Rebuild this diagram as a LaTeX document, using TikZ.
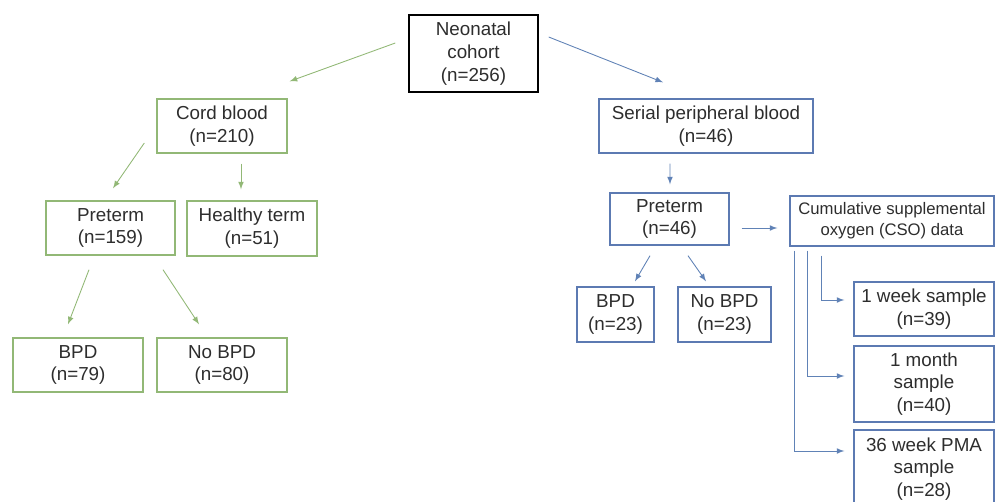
\documentclass[tikz,border=0pt]{standalone}
\usepackage{fontspec}
\setmainfont{Liberation Sans}
\usetikzlibrary{arrows,calc}

\definecolor{verde}{RGB}{146,184,118}
\definecolor{azul}{RGB}{92,122,178}
\definecolor{setaazul}{RGB}{96,130,182}
\definecolor{texto}{RGB}{45,45,45}

\begin{document}
\begin{tikzpicture}[>=latex,x=0.02cm,y=-0.02cm,
  caixa/.style={draw,line width=0.8pt,align=center,inner sep=0pt,text=texto,
    font=\fontsize{10.7}{13}\selectfont},
  cverde/.style={caixa,draw=verde},
  cazul/.style={caixa,draw=azul},
  sverde/.style={->,verde,line width=0.5pt},
  sazul/.style={->,setaazul,line width=0.5pt}]
	% area
	\clip (0,0) rectangle (995,501);
	% topo
	\node[caixa,draw=black,minimum width=2.58cm,minimum height=1.54cm] (coorte) at (473.5,53.5) {Neonatal\\cohort\\(n=256)};
	% ramo do cordao
	\node[cverde,minimum width=2.6cm,minimum height=1.08cm] (cordao) at (222,126) {Cord blood\\(n=210)};
	\node[cverde,minimum width=2.58cm,minimum height=1.08cm] (pretA) at (110.5,228) {Preterm\\(n=159)};
	\node[cverde,minimum width=2.6cm,minimum height=1.1cm] (termo) at (252,228.5) {Healthy term\\(n=51)};
	\node[cverde,minimum width=2.6cm,minimum height=1.08cm] (bpdA) at (78,365) {BPD\\(n=79)};
	\node[cverde,minimum width=2.6cm,minimum height=1.08cm] (nbpdA) at (222,365) {No BPD\\(n=80)};
	% ramo do sangue periferico
	\node[cazul,minimum width=4.28cm,minimum height=1.08cm] (serial) at (706,126) {Serial peripheral blood\\(n=46)};
	\node[cazul,minimum width=2.38cm,minimum height=1.04cm] (pretB) at (669.5,219) {Preterm\\(n=46)};
	\node[cazul,minimum width=4.08cm,minimum height=1cm,font=\fontsize{9.5}{12}\selectfont] (cso) at (892,221) {Cumulative supplemental\\oxygen (CSO) data};
	\node[cazul,minimum width=1.54cm,minimum height=1.1cm] (bpdB) at (615.5,314.5) {BPD\\(n=23)};
	\node[cazul,minimum width=1.86cm,minimum height=1.1cm] (nbpdB) at (724.5,314.5) {No BPD\\(n=23)};
	\node[cazul,minimum width=2.8cm,minimum height=1.08cm] (sem1) at (924,309) {1 week sample\\(n=39)};
	\node[cazul,minimum width=2.8cm,minimum height=1.52cm] (mes1) at (924,384) {1 month\\sample\\(n=40)};
	\node[cazul,minimum width=2.8cm,minimum height=1.56cm] (pma) at (924,469) {36 week PMA\\sample\\(n=28)};
	% setas verdes
	\draw[sverde] ($(coorte.west)+(-13,-10.5)$) -- ($(cordao.north east)+(2,-17)$);
	\draw[sverde] ($(cordao.west)+(-12,17)$) -- ($(pretA.north)+(2.5,-12)$);
	\draw[sverde] ($(cordao.south)+(19,10)$) -- ($(termo.north)+(-11,-11)$);
	\draw[sverde] ($(pretA.south)+(-21.5,14)$) -- ($(bpdA.north)+(-10,-13)$);
	\draw[sverde] ($(pretA.south)+(52.5,14)$) -- ($(nbpdA.north)+(-23,-13)$);
	% setas azuis
	\draw[sazul] ($(coorte.east)+(10,-16.5)$) -- ($(serial.north)+(-43,-16)$);
	\draw[sazul] ($(serial.south)+(-36,10)$) -- ($(pretB.north)+(0.5,-8)$);
	\draw[sazul] ($(pretB.east)+(12,9)$) -- ($(cso.west)+(-12,7)$);
	\draw[sazul] ($(pretB.south)+(-19.5,10)$) -- ($(bpdB.north)+(19.5,-5)$);
	\draw[sazul] ($(pretB.south)+(18.5,10)$) -- ($(nbpdB.north)+(-18.5,-5)$);
	% amostras
	\draw[sazul] ($(cso.south west)+(32,9)$) |- ($(sem1.west)+(-9,-9)$);
	\draw[sazul] ($(cso.south west)+(18,4)$) |- ($(mes1.west)+(-9,-8)$);
	\draw[sazul] ($(cso.south west)+(5,4)$) |- ($(pma.west)+(-9,-18)$);
\end{tikzpicture}
\end{document}
